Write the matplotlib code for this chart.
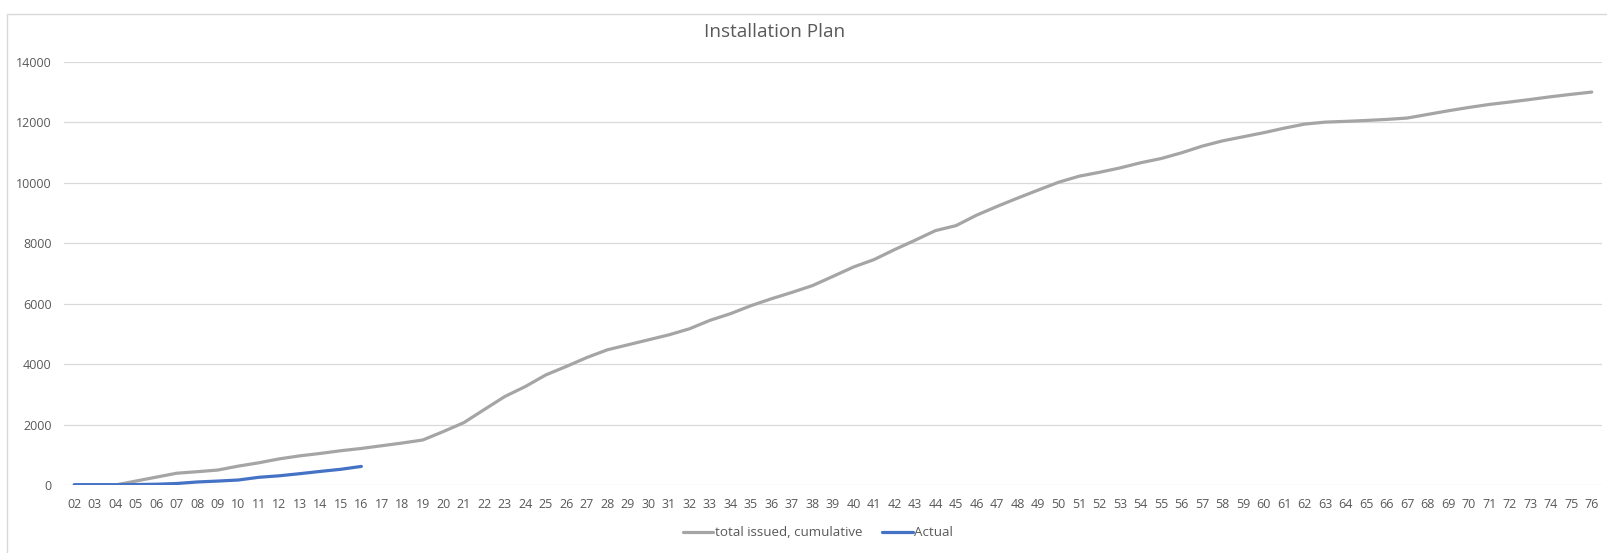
import matplotlib
matplotlib.use("Agg")
import matplotlib.pyplot as plt
from matplotlib.patches import Rectangle

weeks = [f"{w:02d}" for w in range(2, 77)]
total_issued = [0, 0, 0, 130, 260, 390, 440, 495, 625, 735, 865, 965, 1045, 1135, 1210,
                1300, 1390, 1490, 1770, 2065, 2500, 2930, 3260, 3645, 3925, 4220, 4475,
                4640, 4805, 4970, 5170, 5450, 5670, 5935, 6165, 6375, 6600, 6905, 7215,
                7460, 7790, 8100, 8420, 8585, 8930, 9220, 9495, 9760, 10020, 10220, 10350,
                10495, 10665, 10805, 10995, 11215, 11390, 11525, 11660, 11810, 11945, 12010,
                12035, 12065, 12100, 12145, 12265, 12385, 12495, 12595, 12675, 12760, 12850,
                12930, 13005]
actual_weeks = weeks[:15]
actual = [10, 10, 10, 15, 25, 50, 100, 130, 165, 255, 305, 375, 450, 520, 615]

plt.rcParams['font.family'] = ['Open Sans', 'DejaVu Sans']

W, H = 1607, 553
fig = plt.figure(figsize=(W / 100, H / 100), dpi=100)

# chart area border
fig.patches.append(Rectangle((7 / W, -0.1), 1.2, 1 - 14 / H + 0.1, transform=fig.transFigure,
                             fill=False, edgecolor='#D9D9D9', linewidth=1))

left, right, top, bottom = 64, 1602, 62, 485
ax = fig.add_axes([left / W, 1 - bottom / H, (right - left) / W, (bottom - top) / H])

x = list(range(len(weeks)))
ax.plot(x, total_issued, color='#A5A5A5', linewidth=2.3, label='total issued, cumulative',
        solid_capstyle='round', solid_joinstyle='round')
ax.plot(x[:len(actual)], actual, color='#4472C4', linewidth=2.3, label='Actual',
        solid_capstyle='round', solid_joinstyle='round')

ax.set_xlim(-0.5, len(weeks) - 0.5)
ax.set_ylim(0, 14000)
ax.set_yticks(range(0, 14001, 2000))
ax.set_xticks(x)
ax.set_xticklabels(weeks)
ax.yaxis.grid(True, color='#D9D9D9', linewidth=0.9)
ax.set_axisbelow(True)
for s in ax.spines.values():
    s.set_visible(False)
ax.tick_params(axis='both', length=0, colors='#595959', labelsize=9)
ax.tick_params(axis='x', pad=9)
ax.tick_params(axis='y', pad=9)

fig.text(775 / W, 1 - 32 / H, 'Installation Plan', ha='center', va='center',
         fontsize=13.6, color='#595959')

leg = fig.legend(loc='center', bbox_to_anchor=(818 / W, 1 - 533 / H), ncol=2, frameon=False,
                 fontsize=9.6, handlelength=2.3, handletextpad=0.1, columnspacing=1.5,
                 labelcolor='#595959')

fig.savefig('out.png', dpi=100)
